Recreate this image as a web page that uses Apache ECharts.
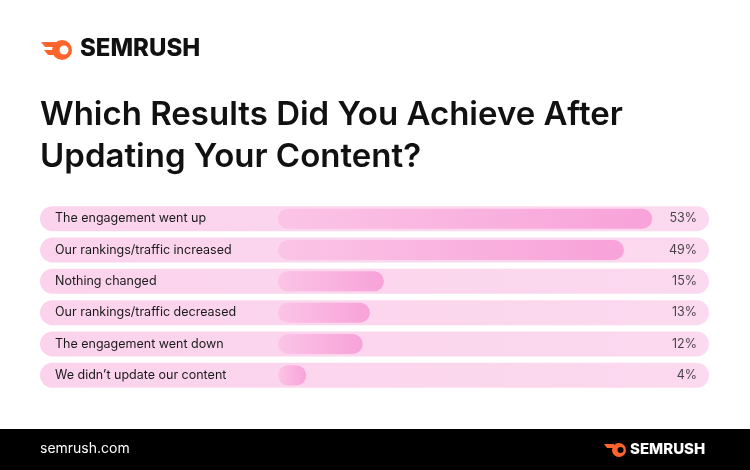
<!DOCTYPE html><html><head><meta charset="utf-8">
<script src="https://cdn.jsdelivr.net/npm/echarts@6/dist/echarts.min.js"></script>
<style>html,body{margin:0;padding:0;background:#fff}#c{width:750px;height:470px}</style></head><body><div id="c"></div>
<script>
const categories=["The engagement went up","Our rankings/traffic increased","Nothing changed","Our rankings/traffic decreased","The engagement went down","We didn’t update our content"];
const values=[53,49,15,13,12,4];
const font='Inter, "Open Sans", sans-serif';
const chart=echarts.init(document.getElementById('c'));
chart.setOption({
 backgroundColor:'#fff',
 animation:false,
 grid:[{left:40,right:41,top:203,bottom:79},{left:278,right:48.4,top:203,bottom:79}],
 xAxis:[{gridIndex:0,type:'value',min:0,max:1,show:false},{gridIndex:1,type:'value',min:0,max:60,show:false}],
 yAxis:[
  {gridIndex:0,type:'category',data:categories,inverse:true,show:false},
  {gridIndex:1,type:'category',data:categories,inverse:true,show:false}
 ],
 series:[
  {type:'bar',xAxisIndex:0,yAxisIndex:0,data:values.map(()=>1),barWidth:25,z:1,silent:true,
   itemStyle:{borderRadius:12.5,color:new echarts.graphic.LinearGradient(0,0,1,0,[{offset:0,color:'#fbd3ec'},{offset:1,color:'#fbd9ef'}])},
   label:{show:true,position:'insideLeft',distance:15,formatter:p=>categories[p.dataIndex],color:'#1a1a1a',fontSize:12.5,fontFamily:font}},
  {type:'bar',xAxisIndex:1,yAxisIndex:1,data:values,barWidth:20,z:2,
   itemStyle:{borderRadius:10,color:new echarts.graphic.LinearGradient(0,0,1,0,[{offset:0,color:'#fbc4e6'},{offset:1,color:'#f8a2d9'}])}},
  {type:'scatter',xAxisIndex:0,yAxisIndex:0,data:values.map(()=>1),symbolSize:0,z:3,silent:true,
   label:{show:true,position:'left',distance:12,formatter:p=>values[p.dataIndex]+'%',color:'#1a1a1a',fontSize:12.5,fontFamily:font}}
 ],
 graphic:[
  {type:'circle',shape:{cx:62,cy:50,r:10},style:{fill:'#ff642d'}},
  {type:'circle',shape:{cx:64,cy:50,r:4.5},style:{fill:'#fff'}},
  {type:'polygon',shape:{points:[[41,42],[56,42],[56,47],[45,47]]},style:{fill:'#ff642d'}},
  {type:'polygon',shape:{points:[[44,50],[55,50],[55,55],[48,55]]},style:{fill:'#ff642d'}},
  {type:'text',left:80,top:37,style:{text:'SEMRUSH',font:'800 24px '+font,fill:'#111'}},
  {type:'text',left:40,top:94,style:{text:'Which Results Did You Achieve After\nUpdating Your Content?',font:'600 33px '+font,fill:'#111',lineHeight:42}},
  {type:'rect',shape:{x:0,y:429,width:750,height:41},style:{fill:'#000'}},
  {type:'text',left:40,top:442,style:{text:'semrush.com',font:'14px '+font,fill:'#fff'}},
  {type:'circle',shape:{cx:619,cy:450,r:7},style:{fill:'#ff642d'}},
  {type:'circle',shape:{cx:620.5,cy:450,r:3},style:{fill:'#000'}},
  {type:'polygon',shape:{points:[[604,444],[614,444],[614,448],[607,448]]},style:{fill:'#ff642d'}},
  {type:'text',left:630,top:442,style:{text:'SEMRUSH',font:'800 15px '+font,fill:'#fff'}}
 ]
});
</script></body></html>
